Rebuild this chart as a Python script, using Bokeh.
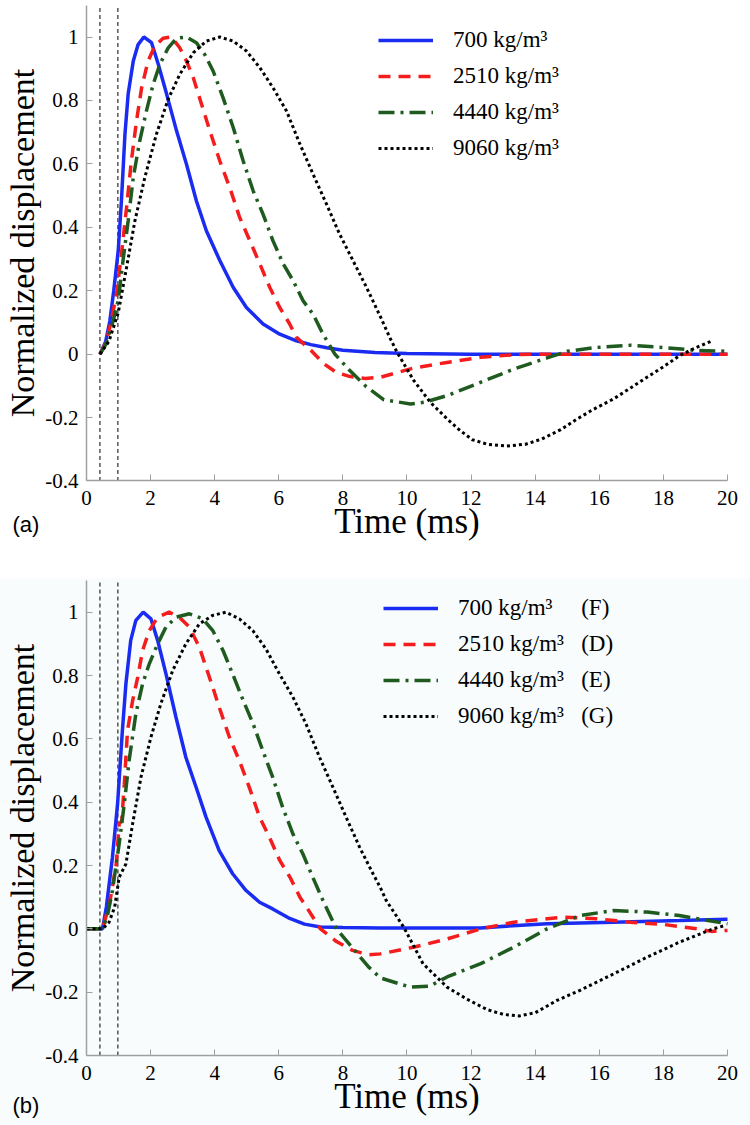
from bokeh.plotting import figure
from bokeh.layouts import column
from bokeh.models import (Range1d, FixedTicker, PrintfTickFormatter, Legend, LegendItem, Label)
from bokeh.embed import file_html
from bokeh.resources import INLINE

# ---------------- data (a) ----------------
t_700_a = [0.42, 0.6, 0.73, 0.85, 0.99, 1.09, 1.2, 1.3, 1.46, 1.61, 1.79, 2.03, 2.24, 2.5, 2.81,
           3.12, 3.43, 3.74, 4.16, 4.58, 4.99, 5.51, 6.03, 6.55, 7.0, 7.5, 8.0, 9.0, 10.0, 12.0,
           14.0, 16.0, 18.0, 20.0]
v_700_a = [0.0, 0.04, 0.105, 0.2, 0.326, 0.483, 0.693, 0.82, 0.924, 0.976, 1.0, 0.982, 0.914, 0.82,
           0.704, 0.599, 0.483, 0.389, 0.295, 0.21, 0.147, 0.095, 0.063, 0.042, 0.03, 0.02, 0.012,
           0.005, 0.002, 0.0, 0.0, 0.0, 0.0, 0.0]

t_2510_a = [0.42, 0.6, 0.73, 0.94, 1.09, 1.25, 1.4, 1.56, 1.72, 1.92, 2.13, 2.39, 2.65, 2.91, 3.12,
            3.33, 3.59, 3.85, 4.16, 4.47, 4.78, 5.1, 5.41, 5.72, 6.03, 6.34, 6.55, 7.0, 7.4, 7.8,
            8.2, 8.7, 9.2, 9.7, 10.2, 11.2, 12.3, 13.3, 14.0, 16.0, 18.0, 20.0]
v_2510_a = [0.0, 0.035, 0.085, 0.19, 0.315, 0.462, 0.609, 0.735, 0.84, 0.924, 0.971, 0.996, 1.0,
            0.966, 0.924, 0.872, 0.788, 0.704, 0.609, 0.525, 0.431, 0.357, 0.284, 0.21, 0.147,
            0.095, 0.053, 0.012, -0.03, -0.058, -0.07, -0.077, -0.072, -0.058, -0.044, -0.027,
            -0.01, -0.002, 0.0, 0.0, 0.0, 0.0]

t_4440_a = [0.42, 0.6, 0.78, 0.99, 1.14, 1.3, 1.46, 1.66, 1.87, 2.08, 2.29, 2.55, 2.81, 3.12, 3.43,
            3.69, 3.95, 4.26, 4.58, 4.89, 5.2, 5.51, 5.82, 6.14, 6.45, 6.76, 7.07, 7.38, 7.75, 8.2,
            8.7, 9.28, 10.11, 10.53, 11.25, 12.29, 13.33, 14.37, 15.0, 15.9, 16.97, 18.0, 19.0, 20.0]
v_4440_a = [0.0, 0.03, 0.085, 0.169, 0.295, 0.42, 0.557, 0.672, 0.767, 0.851, 0.914, 0.966, 0.996,
            1.0, 0.982, 0.945, 0.893, 0.809, 0.714, 0.609, 0.515, 0.441, 0.357, 0.284, 0.231,
            0.168, 0.126, 0.063, 0.0, -0.05, -0.1, -0.144, -0.157, -0.152, -0.131, -0.089, -0.047,
            -0.012, 0.009, 0.021, 0.028, 0.021, 0.012, 0.009]

t_9060_a = [0.42, 0.7, 0.99, 1.25, 1.51, 1.82, 2.18, 2.55, 2.91, 3.33, 3.74, 4.16, 4.58, 4.99, 5.41,
            5.82, 6.24, 6.66, 7.07, 7.49, 7.9, 8.32, 8.74, 9.17, 9.46, 9.69, 10.21, 10.73, 11.25,
            11.66, 12.04, 12.5, 13.1, 13.7, 14.2, 14.8, 15.3, 15.8, 16.45, 17.0, 17.5, 18.0, 18.5,
            19.0, 19.55]
v_9060_a = [0.0, 0.04, 0.13, 0.273, 0.42, 0.557, 0.693, 0.804, 0.882, 0.95, 0.987, 1.0, 0.987,
            0.956, 0.903, 0.84, 0.767, 0.662, 0.567, 0.473, 0.378, 0.294, 0.21, 0.118, 0.053,
            0.006, -0.083, -0.152, -0.204, -0.241, -0.27, -0.284, -0.29, -0.284, -0.268, -0.238,
            -0.205, -0.175, -0.141, -0.105, -0.072, -0.04, -0.005, 0.02, 0.043]

# ---------------- data (b) ----------------
t_700_b = [0.0, 0.5, 0.62, 0.81, 0.97, 1.12, 1.23, 1.38, 1.54, 1.77, 2.01, 2.22, 2.48, 2.79, 3.1,
           3.42, 3.73, 4.14, 4.56, 4.98, 5.4, 5.81, 6.3, 6.8, 7.3, 8.0, 9.17, 10.5, 12.3, 13.3,
           14.37, 16.45, 18.5, 20.0]
v_700_b = [0.0, 0.0, 0.069, 0.226, 0.395, 0.626, 0.774, 0.911, 0.974, 1.0, 0.979, 0.911, 0.805,
           0.669, 0.542, 0.447, 0.353, 0.247, 0.174, 0.121, 0.084, 0.063, 0.035, 0.015, 0.006,
           0.004, 0.003, 0.003, 0.003, 0.01, 0.016, 0.021, 0.026, 0.03]

t_2510_b = [0.0, 0.5, 0.72, 0.93, 1.02, 1.1, 1.18, 1.28, 1.44, 1.6, 1.75, 1.96, 2.22, 2.58, 2.9,
            3.21, 3.52, 3.73, 3.94, 4.14, 4.46, 4.77, 5.08, 5.4, 5.71, 6.03, 6.35, 6.66, 6.87, 7.3,
            7.8, 8.3, 8.8, 9.17, 10.2, 11.25, 12.3, 13.33, 14.37, 14.9, 15.9, 16.97, 18.0, 19.05,
            19.5, 20.0]
v_2510_b = [0.0, 0.0, 0.08, 0.206, 0.332, 0.34, 0.457, 0.626, 0.721, 0.795, 0.879, 0.942, 0.984,
            1.0, 0.984, 0.953, 0.89, 0.826, 0.763, 0.7, 0.605, 0.531, 0.447, 0.353, 0.289, 0.216,
            0.163, 0.1, 0.068, 0.0, -0.04, -0.068, -0.082, -0.079, -0.058, -0.032, 0.0, 0.021,
            0.032, 0.037, 0.032, 0.021, 0.014, 0.0, -0.008, -0.005]

t_4440_b = [0.0, 0.5, 0.65, 0.81, 1.02, 1.18, 1.33, 1.54, 1.75, 1.96, 2.22, 2.48, 2.79, 3.21, 3.63,
            3.94, 4.26, 4.56, 4.89, 5.2, 5.5, 5.81, 6.12, 6.44, 6.75, 7.06, 7.38, 7.8, 8.3, 8.8,
            9.17, 10.1, 10.7, 11.25, 12.3, 13.33, 14.37, 15.4, 16.45, 17.5, 18.5, 20.0]
v_4440_b = [0.0, 0.0, 0.04, 0.121, 0.269, 0.395, 0.532, 0.679, 0.774, 0.837, 0.9, 0.953, 0.984,
            0.995, 0.979, 0.942, 0.879, 0.805, 0.721, 0.647, 0.563, 0.479, 0.384, 0.3, 0.237,
            0.163, 0.089, 0.0, -0.06, -0.12, -0.155, -0.184, -0.181, -0.152, -0.11, -0.058, 0.0,
            0.042, 0.058, 0.053, 0.042, 0.016]

t_9060_b = [0.0, 0.5, 0.7, 0.88, 1.02, 1.23, 1.44, 1.7, 2.01, 2.32, 2.69, 3.1, 3.52, 3.94, 4.35,
            4.77, 5.19, 5.6, 6.02, 6.44, 6.85, 7.27, 7.69, 8.1, 8.52, 8.94, 9.17, 9.35, 9.9, 10.5,
            11.25, 11.87, 12.5, 13.0, 13.5, 14.0, 14.68, 15.4, 16.45, 17.5, 18.5, 19.55, 19.9]
v_9060_b = [0.0, 0.0, 0.02, 0.069, 0.163, 0.205, 0.332, 0.479, 0.605, 0.711, 0.816, 0.9, 0.963,
            0.99, 1.0, 0.979, 0.942, 0.884, 0.805, 0.732, 0.647, 0.542, 0.447, 0.353, 0.258,
            0.174, 0.13, 0.09, 0.005, -0.11, -0.184, -0.222, -0.255, -0.27, -0.275, -0.265,
            -0.226, -0.194, -0.142, -0.089, -0.042, 0.0, 0.01]

marker_times = [0.42, 0.98]
x_ticks = [0, 2, 4, 6, 8, 10, 12, 14, 16, 18, 20]
y_ticks = [-0.4, -0.2, 0, 0.2, 0.4, 0.6, 0.8, 1]
X_LIM = (0, 20)
Y_LIM = (-0.4, 1.1)

NB = "\u00a0"
labels_a = ["700 kg/m\u00b3", "2510 kg/m\u00b3", "4440 kg/m\u00b3", "9060 kg/m\u00b3"]
labels_b = ["700 kg/m\u00b3" + NB * 5 + "(F)",
            "2510 kg/m\u00b3" + NB * 3 + "(D)",
            "4440 kg/m\u00b3" + NB * 3 + "(E)",
            "9060 kg/m\u00b3" + NB * 3 + "(G)"]

colors = ["#1a2cf2", "#f41c1c", "#1f5a1f", "#000000"]
dashes = ["solid", "12 8", "16 6 3 6", "3 3"]
widths = [3.5, 3.5, 3.5, 3]

SERIF = "Liberation Serif"


def make_panel(height, x_view, y_view, series, labels, legend_xy, bg, tag, tag_xy):
    # the frame fills the whole figure; the axes sit at fixed data locations
    p = figure(width=750, height=height, x_range=Range1d(*x_view), y_range=Range1d(*y_view),
               output_backend="svg", toolbar_location=None,
               min_border=0, min_border_left=0, min_border_right=0,
               min_border_top=0, min_border_bottom=0,
               background_fill_color=bg, border_fill_color=bg)
    p.outline_line_color = None
    p.grid.visible = False

    for ax in (p.xaxis[0], p.yaxis[0]):
        ax.axis_line_color = "#a0a0a0"
        ax.axis_line_width = 1.5
        ax.major_tick_line_color = "#a0a0a0"
        ax.major_tick_in = 6
        ax.major_tick_out = 0
        ax.minor_tick_line_color = None
        ax.major_label_text_font = SERIF
        ax.major_label_text_font_size = "21px"
        ax.major_label_text_color = "black"
        ax.axis_label_text_font = SERIF
        ax.axis_label_text_font_style = "normal"
        ax.axis_label_text_color = "black"

    xa = p.xaxis[0]
    xa.fixed_location = Y_LIM[0]
    xa.bounds = X_LIM
    xa.ticker = FixedTicker(ticks=x_ticks)
    xa.axis_label = "Time (ms)"
    xa.axis_label_text_font_size = "35px"
    xa.major_label_standoff = 10
    xa.axis_label_standoff = -6

    ya = p.yaxis[0]
    ya.fixed_location = X_LIM[0]
    ya.bounds = Y_LIM
    ya.ticker = FixedTicker(ticks=y_ticks)
    ya.formatter = PrintfTickFormatter(format="%g")
    ya.axis_label = "Normalized displacement"
    ya.axis_label_text_font_size = "34px"
    ya.major_label_standoff = 8
    ya.axis_label_standoff = 1

    n = len(marker_times)
    p.segment(x0=marker_times, y0=[Y_LIM[0]] * n, x1=marker_times, y1=[Y_LIM[1]] * n,
              line_color="black", line_width=1, line_dash="4 3")

    items = []
    for (tx, vy), lab, c, d, w in zip(series, labels, colors, dashes, widths):
        r = p.line(tx, vy, line_color=c, line_width=w, line_dash=d)
        items.append(LegendItem(label=lab, renderers=[r]))

    leg = Legend(items=items, location=legend_xy, glyph_width=55, glyph_height=26,
                 label_height=26, label_standoff=20, spacing=10, padding=0, margin=0,
                 border_line_color=None, background_fill_alpha=0,
                 label_text_font=SERIF, label_text_font_size="23px",
                 label_text_color="black")
    p.add_layout(leg)

    p.add_layout(Label(x=tag_xy[0], y=tag_xy[1], text=tag, text_font="Liberation Sans",
                       text_font_size="22px", text_baseline="middle", text_color="black"))
    return p


# view windows: 0..20 ms spans page x 86..727; about 317 px per unit vertically
x_view = (-2.683, 20.718)

p1 = make_panel(578, x_view, (-0.7075, 1.1151),
                [(t_700_a, v_700_a), (t_2510_a, v_2510_a), (t_4440_a, v_4440_a),
                 (t_9060_a, v_9060_a)],
                labels_a, (378, 417), "#ffffff", "(a)", (-2.31, -0.537))

p2 = make_panel(547, x_view, (-0.621, 1.1064),
                [(t_700_b, v_700_b), (t_2510_b, v_2510_b), (t_4440_b, v_4440_b),
                 (t_9060_b, v_9060_b)],
                labels_b, (383, 396), "#f8fcfc", "(b)", (-2.31, -0.558))

layout = column(p1, p2, spacing=0)
open("out.html", "w").write(file_html(layout, INLINE))
